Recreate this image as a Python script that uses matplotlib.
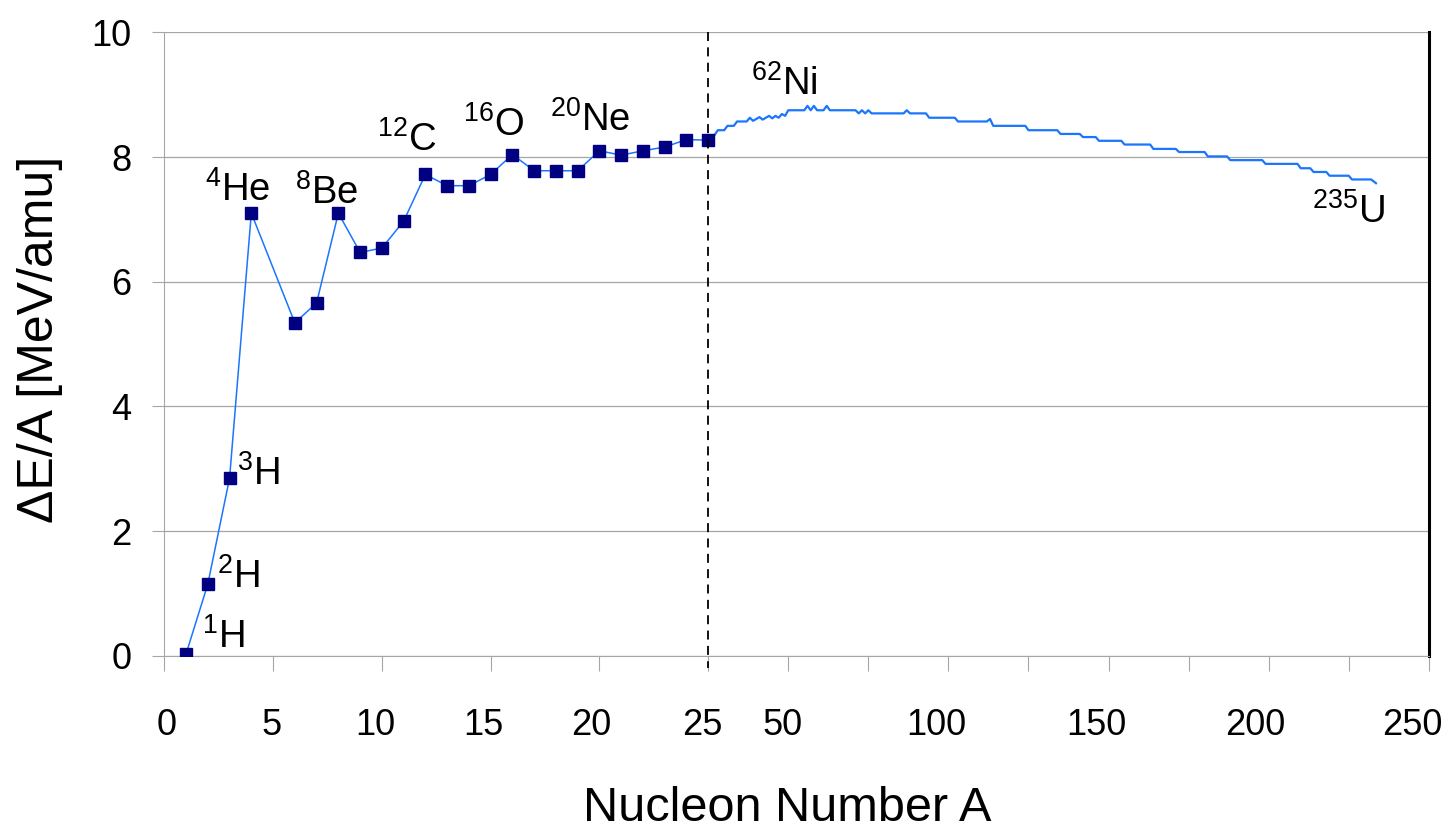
import matplotlib
matplotlib.use("Agg")
import matplotlib.pyplot as plt
import matplotlib.transforms as mtransforms
import numpy as np

plt.rcParams["font.family"] = ["Liberation Sans", "DejaVu Sans"]
plt.rcParams["mathtext.fontset"] = "custom"
plt.rcParams["mathtext.rm"] = "Liberation Sans"
plt.rcParams["mathtext.default"] = "regular"

# light nuclei, one point per A (markers)
light_a = [1, 2, 3, 4, 6, 7, 8, 9, 10, 11, 12, 13, 14, 15, 16, 17, 18, 19, 20,
           21, 22, 23, 24, 25]
light_e = [0.03, 1.15, 2.85, 7.10, 5.34, 5.66, 7.10, 6.47, 6.54, 6.97, 7.72,
           7.54, 7.54, 7.72, 8.04, 7.78, 7.78, 7.78, 8.10, 8.03, 8.10, 8.16,
           8.28, 8.27]

# heavier nuclei
heavy_a = [25, 26.4, 28, 30, 31, 33, 34, 37, 38, 39, 41, 42, 44, 45, 46, 47,
           48, 49, 50, 55, 56, 57, 58, 59, 61, 62, 63, 71, 72, 73, 74, 75, 76,
           86, 87, 88, 93, 94, 102, 103, 112, 113, 114, 124, 125, 134, 135,
           141, 142, 146, 147, 154, 155, 163, 164, 171, 172, 180, 181, 187,
           188, 198, 199, 209, 210, 213, 214, 218, 219, 225, 226, 232, 233.5]
heavy_e = [8.27, 8.31, 8.43, 8.43, 8.50, 8.50, 8.57, 8.57, 8.63, 8.58, 8.64,
           8.60, 8.66, 8.62, 8.66, 8.63, 8.69, 8.66, 8.75, 8.75, 8.82, 8.75,
           8.82, 8.75, 8.75, 8.82, 8.75, 8.75, 8.70, 8.75, 8.70, 8.75, 8.70,
           8.70, 8.75, 8.70, 8.70, 8.63, 8.63, 8.57, 8.57, 8.61, 8.50, 8.50,
           8.43, 8.43, 8.37, 8.37, 8.32, 8.32, 8.26, 8.26, 8.20, 8.20, 8.13,
           8.13, 8.08, 8.08, 8.01, 8.01, 7.95, 7.95, 7.89, 7.89, 7.82, 7.82,
           7.76, 7.76, 7.70, 7.70, 7.64, 7.64, 7.58]

# nuclide labels: (mass number, symbol, x, y)
label_mass = ["1", "2", "3", "4", "8", "12", "16", "20", "62", "235"]
label_sym = ["H", "H", "H", "He", "Be", "C", "O", "Ne", "Ni", "U"]
label_x = [1.73, 2.41, 3.34, 1.87, 6.0, 9.76, 13.73, 17.72, 38.5, 213.4]
label_y = [0.125, 1.09, 2.74, 7.30, 7.25, 8.10, 8.34, 8.42, 8.99, 6.94]

x_ticks_major = [0, 5, 10, 15, 20, 25, 50, 100, 150, 200, 250]
x_ticks_minor = [75, 125, 175, 225]
# the tick labels sit a little left of their ticks (pixels)
x_label_shift = [2, -2, -7, -7, -8, -6, -6, -12, -12, -13, -17]

BREAK = 25
K = 0.1472  # compression of the axis above A = 25


def forward(x):
    x = np.asarray(x, dtype=float)
    return np.where(x <= BREAK, x, BREAK + (x - BREAK) * K)


def inverse(u):
    u = np.asarray(u, dtype=float)
    return np.where(u <= BREAK, u, BREAK + (u - BREAK) / K)


fig = plt.figure(figsize=(14.45, 8.33), dpi=100)
ax = fig.add_axes([0.1137, 0.2127, 0.8751, 0.7485])
ax.set_xscale("function", functions=(forward, inverse))

grid_gray = "#a6a6a6"
line_blue = "#1a75ff"

ax.plot(heavy_a, heavy_e, color=line_blue, lw=1.6, zorder=3)
ax.plot(light_a, light_e, color=line_blue, lw=1.1, marker="s",
        markersize=8.6, markerfacecolor="#000080", markeredgecolor="#000080",
        zorder=4)

ax.plot([BREAK, BREAK], [10, -0.2], color="black", lw=1.3,
        linestyle=(0, (5, 3.5)), clip_on=False, zorder=5)

for m, s, x, y in zip(label_mass, label_sym, label_x, label_y):
    ax.text(x, y, rf"$^{{{m}}}$" + s, fontsize=27.5, ha="left", va="baseline",
            zorder=6)

ax.set_xlim(0, 250)
ax.set_ylim(0, 10)
ax.set_xticks(x_ticks_major)
ax.set_xticklabels([str(t) for t in x_ticks_major])
ax.set_xticks(x_ticks_minor, minor=True)
ax.set_yticks(np.arange(0, 11, 2))
ax.set_yticklabels([str(t) for t in range(0, 11, 2)])

ax.tick_params(axis="x", which="both", direction="out", length=10.8,
               width=0.8, color=grid_gray, labelsize=26, pad=27)
ax.tick_params(axis="y", direction="out", length=8.6, width=0.8,
               color=grid_gray, labelsize=26, pad=15)

for lab, dx in zip(ax.get_xticklabels(), x_label_shift):
    shift = mtransforms.ScaledTranslation(dx / 100, 0, fig.dpi_scale_trans)
    lab.set_transform(lab.get_transform() + shift)

ax.grid(True, axis="y", color=grid_gray, lw=0.9)
ax.set_axisbelow(True)

ax.spines["top"].set_visible(False)
ax.spines["left"].set_color(grid_gray)
ax.spines["bottom"].set_color(grid_gray)
ax.spines["right"].set_color("black")
ax.spines["right"].set_linewidth(2.2)

fig.text(787 / 1445, 12 / 833, "Nucleon Number A", fontsize=35,
         ha="center", va="baseline")
fig.text(40 / 1445, 1 - 339 / 833, "ΔE/A [MeV/amu]", fontsize=36,
         rotation=90, ha="center", va="center")

fig.savefig("out.png", dpi=100)
